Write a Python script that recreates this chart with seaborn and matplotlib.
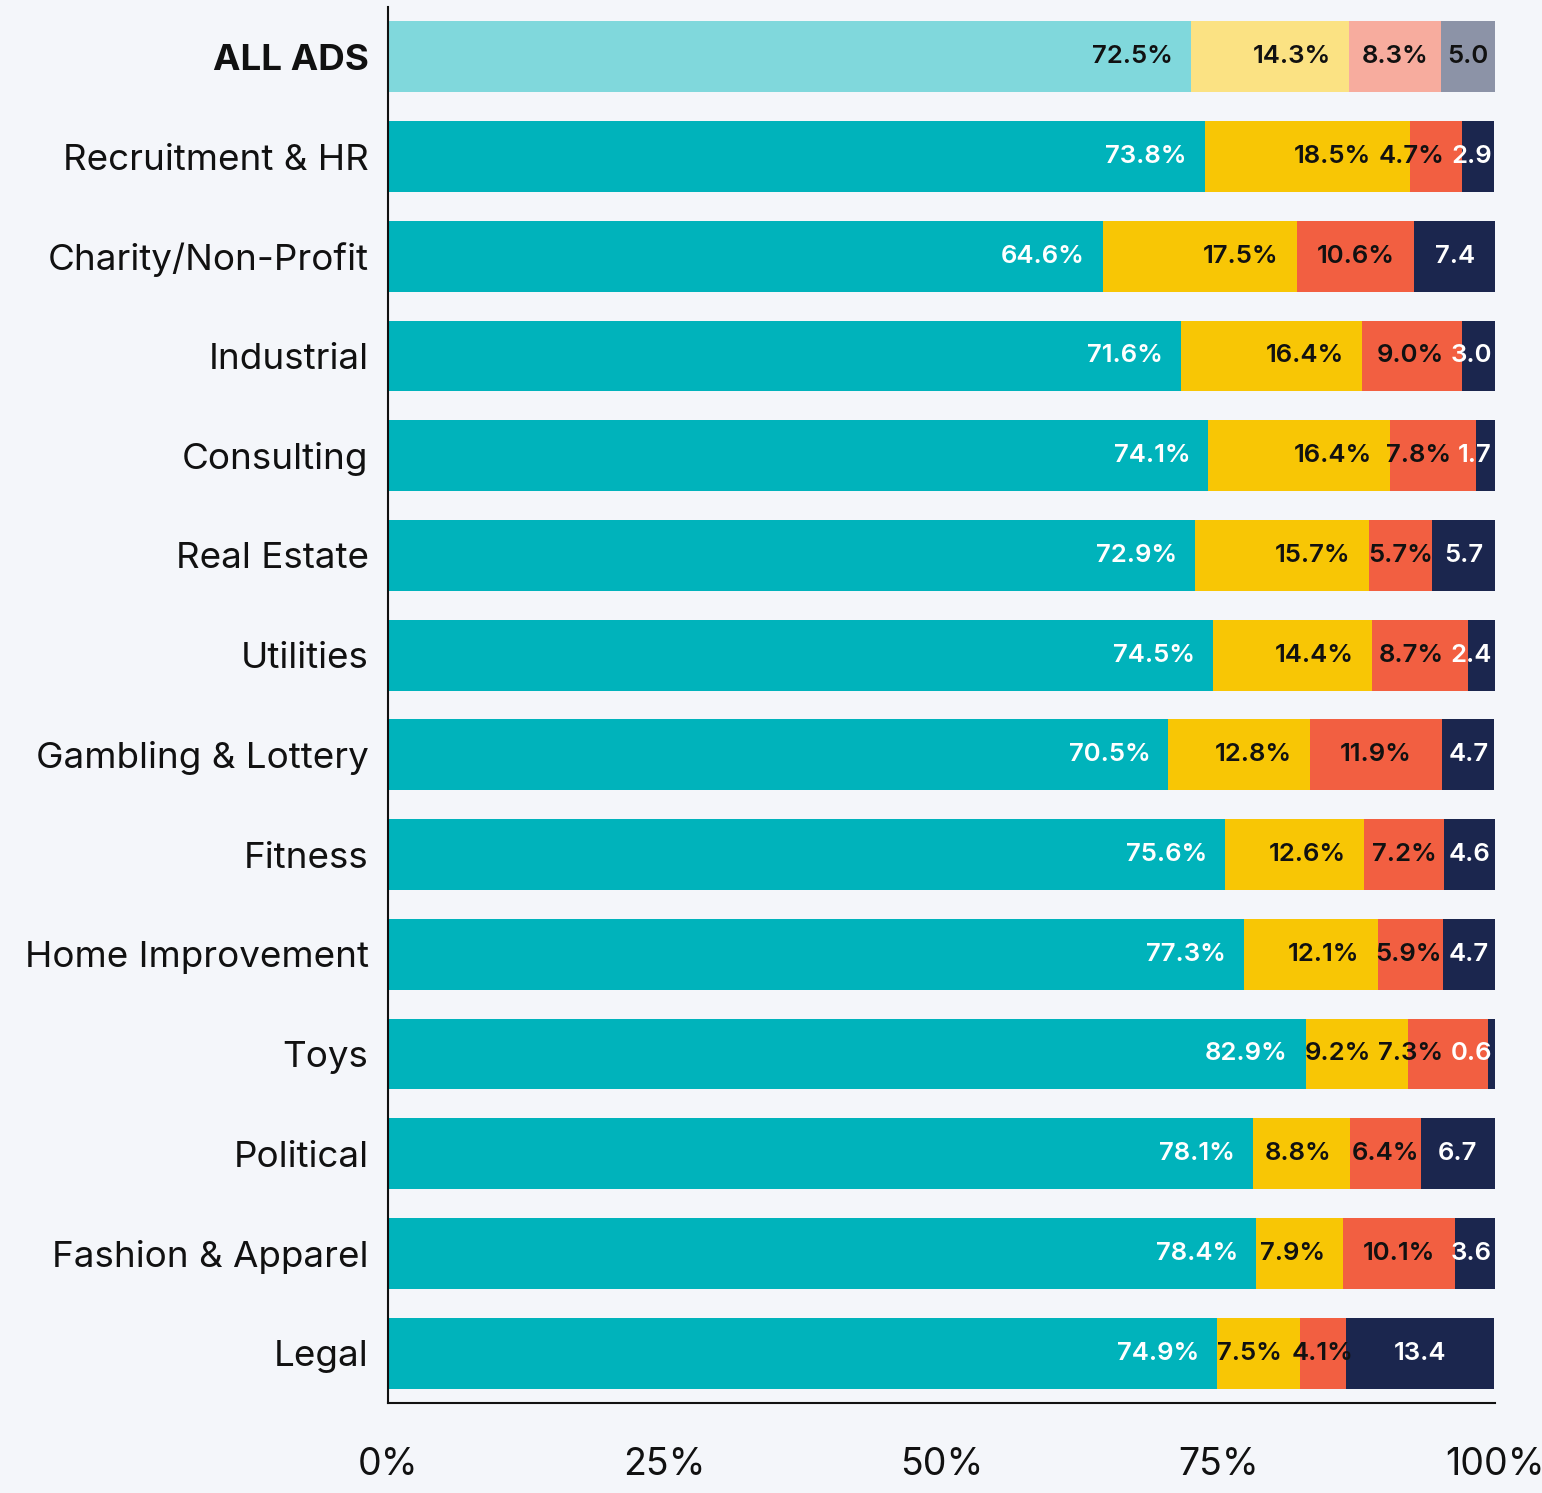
import matplotlib
matplotlib.use("Agg")
import matplotlib.pyplot as plt
import numpy as np
import pandas as pd
import seaborn as sns

# Share of ads per category, split into four stacked parts (percent)
categories = [
    "ALL ADS", "Recruitment & HR", "Charity/Non-Profit", "Industrial",
    "Consulting", "Real Estate", "Utilities", "Gambling & Lottery",
    "Fitness", "Home Improvement", "Toys", "Political",
    "Fashion & Apparel", "Legal",
]
share_a = [72.5, 73.8, 64.6, 71.6, 74.1, 72.9, 74.5, 70.5, 75.6, 77.3, 82.9, 78.1, 78.4, 74.9]
share_b = [14.3, 18.5, 17.5, 16.4, 16.4, 15.7, 14.4, 12.8, 12.6, 12.1, 9.2, 8.8, 7.9, 7.5]
share_c = [8.3, 4.7, 10.6, 9.0, 7.8, 5.7, 8.7, 11.9, 7.2, 5.9, 7.3, 6.4, 10.1, 4.1]
share_d = [5.0, 2.9, 7.4, 3.0, 1.7, 5.7, 2.4, 4.7, 4.6, 4.7, 0.6, 6.7, 3.6, 13.4]
x_ticks = [0, 25, 50, 75, 100]
x_tick_labels = ["0%", "25%", "50%", "75%", "100%"]

BG = "#F4F6FA"
full_colors = ["#00B3BB", "#F8C605", "#F25F41", "#1B264E"]
light_colors = ["#80D8DC", "#FBE283", "#F7AC9E", "#8C93A7"]
TEXT = "#111111"

sns.set_theme(style="white")
plt.rcParams["font.family"] = ["Inter", "DejaVu Sans"]

df = pd.DataFrame({
    "category": categories,
    "a": share_a, "b": share_b, "c": share_c, "d": share_d,
})
parts = ["a", "b", "c", "d"]
cum = df[parts].cumsum(axis=1)

fig = plt.figure(figsize=(15.42, 14.93), dpi=100, facecolor=BG)
W, H = 1542, 1493
ax = fig.add_axes([388 / W, 1 - 1403 / H, (1495 - 388) / W, (1403 - 7) / H])
ax.set_facecolor(BG)

# Stacked bars: draw the cumulative totals from the outermost part inward
for k in range(3, -1, -1):
    plot_df = pd.DataFrame({"category": categories, "value": cum[parts[k]].values})
    pal = [light_colors[k]] + [full_colors[k]] * (len(categories) - 1)
    sns.barplot(
        data=plot_df, y="category", x="value", hue="category",
        palette=pal, legend=False, ax=ax, width=0.71,
        saturation=1, linewidth=0, orient="h",
    )

ax.set_xlim(0, 100)
ax.set_ylim(len(categories) - 0.5, -0.5)
ax.set_xticks(x_ticks)
ax.set_xticklabels(x_tick_labels, fontsize=27, color=TEXT)
ax.set_xlabel("")
ax.set_ylabel("")
ax.tick_params(axis="x", length=0, pad=32)
ax.tick_params(axis="y", length=0, pad=14, labelsize=26.5, labelcolor=TEXT)
for lab in ax.get_yticklabels():
    if lab.get_text() == "ALL ADS":
        lab.set_fontweight("bold")
for side in ["top", "right"]:
    ax.spines[side].set_visible(False)
for side in ["left", "bottom"]:
    ax.spines[side].set_color(TEXT)
    ax.spines[side].set_linewidth(1.5)
ax.grid(False)

# Value labels inside the segments
texts = []
for i in range(len(categories)):
    row_texts = []
    for k, p in enumerate(parts):
        v = df.loc[i, p]
        label = f"{v:.1f}%" if k < 3 else f"{v:.1f}"
        if i == 0:
            color = TEXT
        else:
            color = "white" if k in (0, 3) else TEXT
        t = ax.text(0, i, label, ha="center", va="center", fontsize=18.5,
                    fontweight="semibold", color=color, clip_on=False)
        row_texts.append(t)
    texts.append(row_texts)

fig.canvas.draw()
renderer = fig.canvas.get_renderer()
to_px = ax.transData
to_data = ax.transData.inverted()
pad_px = 18
gap_px = 7
right_limit = to_px.transform((100, 0))[0] - 3

# Place labels right to left, pushing a label left when it would run into
# the label that follows it
for i in range(len(categories)):
    ends = [0.0] + list(cum.loc[i, parts].values)
    starts_px = [to_px.transform((ends[k], i))[0] for k in range(4)]
    ends_px = [to_px.transform((min(ends[k + 1], 100), i))[0] for k in range(4)]
    ends_px[3] = to_px.transform((100, i))[0]
    widths = [t.get_window_extent(renderer).width for t in texts[i]]
    centers = [0.0] * 4
    next_left = None
    for k in range(3, -1, -1):
        w = widths[k]
        if k >= 2:
            c = (starts_px[k] + ends_px[k]) / 2
        else:
            c = ends_px[k] - pad_px - w / 2
        if k == 3 and c + w / 2 > right_limit:
            c = right_limit - w / 2
        if next_left is not None and c + w / 2 > next_left - gap_px:
            c = next_left - gap_px - w / 2
        centers[k] = c
        next_left = c - w / 2
    y_px = to_px.transform((0, i))[1]
    for k in range(4):
        xd = to_data.transform((centers[k], y_px))[0]
        texts[i][k].set_x(xd)

fig.savefig("out.png", dpi=100, facecolor=BG)
